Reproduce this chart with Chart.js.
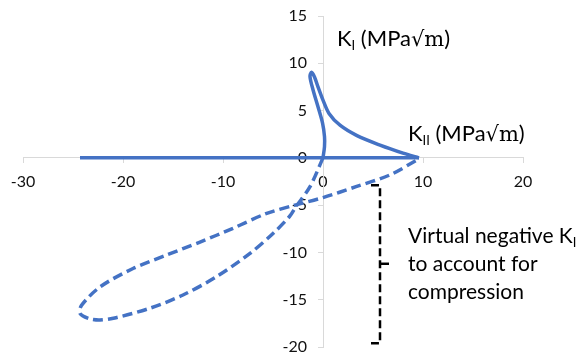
<!DOCTYPE html>
<html>
<head>
<meta charset="utf-8">
<script src="https://cdn.jsdelivr.net/npm/chart.js@4.4.0/dist/chart.umd.min.js"></script>
<style>
html, body { margin: 0; padding: 0; background: #fff; }
#wrap { width: 577px; height: 354px; }
</style>
</head>
<body>
<div id="wrap"><canvas id="kChart"></canvas></div>
<script>
// axis ranges / ticks
var xTicks = [-30, -20, -10, 0, 10, 20];
var yTicks = [-20, -15, -10, -5, 0, 5, 10, 15];

// K_I = 0 branch (solid)
var flatKII = [-24.3, 9.6];
var flatKI = [0, 0];

// loop above the axis (solid)
var upperKII = [9.6, 8.0, 5.7, 3.4, 1.7, 0.6, 0, -0.5, -0.85, -1.15, -1.3, -1.0, -0.5, -0.05, 0.15, 0.15, 0];
var upperKI = [0, 0.5, 1.35, 2.35, 3.45, 4.7, 6.1, 7.5, 8.55, 9.05, 8.6, 7.2, 5.4, 3.7, 2.25, 1.2, 0];

// virtual negative K_I branch (dashed)
var virtKII = [0, -1.3, -2.7, -3.35, -5.0, -7.3, -10.7, -14.0, -17.3, -20.7, -22.3, -23.4, -24.3, -24.15, -22.3, -19.0, -15.7, -12.3, -9.0, -5.7, -3.0, 0, 3.3, 6.7, 9.6];
var virtKI = [0, -3.05, -5.15, -6.2, -8.0, -10.1, -12.6, -14.5, -15.9, -16.9, -17.15, -17.0, -16.45, -15.6, -13.65, -11.7, -10.3, -8.9, -7.45, -5.9, -5.05, -4.2, -3.05, -1.8, -0.1];

// bracket marking the virtual region
var bracketX = [4.8, 5.7, 5.7, 4.8];
var bracketY = [-2.9, -2.9, -19.6, -19.6];
var bracketMidX = [5.7, 6.6];
var bracketMidY = [-11.2, -11.2];

function pts(xs, ys) {
    return xs.map(function(x, i) { return { x: x, y: ys[i] }; });
}

var blue = '#4472C4';
var sans = 'Lato, "Open Sans", sans-serif';
var serif = '"DejaVu Serif", "Liberation Serif", serif';

// draws a run of text pieces one after another
function drawRuns(c, x, y, runs) {
    runs.forEach(function(r) {
        c.font = r.size + 'px ' + (r.font || sans);
        c.fillText(r.t, x, y + (r.dy || 0));
        x += c.measureText(r.t).width;
    });
}

var textPlugin = {
    id: 'textPlugin',
    beforeDraw: function(chart) {
        // a y axis placed at x = 0 ignores ticks.padding, so push its labels left here
        chart.scales.y.getLabelItems().forEach(function(item) {
            item.options.translation[0] -= 16;
        });
    },
    afterDraw: function(chart) {
        var c = chart.ctx;
        c.save();
        c.fillStyle = '#000';
        c.textBaseline = 'alphabetic';
        c.textAlign = 'left';
        drawRuns(c, 337, 46, [
            { t: 'K', size: 22 }, { t: 'I', size: 13, dy: 4 }, { t: ' (MPa', size: 22 },
            { t: '√m', size: 21, font: serif }, { t: ')', size: 22 }
        ]);
        drawRuns(c, 408, 141, [
            { t: 'K', size: 22 }, { t: 'II', size: 13, dy: 4 }, { t: ' (MPa', size: 22 },
            { t: '√m', size: 21, font: serif }, { t: ')', size: 22 }
        ]);
        drawRuns(c, 408, 243, [{ t: 'Virtual negative K', size: 21 }, { t: 'I', size: 13, dy: 4 }]);
        drawRuns(c, 408, 271, [{ t: 'to account for', size: 21 }]);
        drawRuns(c, 408, 299, [{ t: 'compression', size: 21 }]);
        c.restore();
    }
};

var ctx = document.getElementById('kChart').getContext('2d');
var chart = new Chart(ctx, {
    type: 'scatter',
    data: {
        datasets: [{
            data: pts(virtKII, virtKI),
            showLine: true,
            borderColor: blue,
            borderWidth: 3.5,
            borderDash: [10, 5],
            tension: 0.3,
            pointRadius: 0
        }, {
            data: pts(upperKII, upperKI),
            showLine: true,
            borderColor: blue,
            borderWidth: 3.5,
            tension: 0.3,
            pointRadius: 0
        }, {
            data: pts(flatKII, flatKI),
            showLine: true,
            borderColor: blue,
            borderWidth: 3.5,
            pointRadius: 0
        }, {
            data: pts(bracketX, bracketY),
            showLine: true,
            borderColor: '#000',
            borderWidth: 2.5,
            borderDash: [8, 4],
            pointRadius: 0
        }, {
            data: pts(bracketMidX, bracketMidY),
            showLine: true,
            borderColor: '#000',
            borderWidth: 2.5,
            pointRadius: 0
        }]
    },
    options: {
        responsive: true,
        maintainAspectRatio: false,
        animation: false,
        layout: { padding: { left: 23, right: 54, top: 16, bottom: 7 } },
        plugins: { legend: { display: false }, tooltip: { enabled: false } },
        scales: {
            x: {
                type: 'linear',
                position: { y: 0 },
                min: xTicks[0],
                max: xTicks[xTicks.length - 1],
                afterBuildTicks: function(axis) {
                    axis.ticks = xTicks.map(function(v) { return { value: v }; });
                },
                // axes cross at the origin, so they take no room of their own
                afterFit: function(axis) { axis.height = 0; axis.paddingLeft = 0; axis.paddingRight = 0; },
                grid: { drawOnChartArea: false, drawTicks: true, tickLength: 5, color: '#d9d9d9' },
                border: { color: '#d9d9d9', width: 1 },
                ticks: { autoSkip: false, maxRotation: 0, padding: 9, color: '#111', font: { family: sans, size: 16 } }
            },
            y: {
                type: 'linear',
                position: { x: 0 },
                min: yTicks[0],
                max: yTicks[yTicks.length - 1],
                afterBuildTicks: function(axis) {
                    axis.ticks = yTicks.map(function(v) { return { value: v }; });
                },
                afterFit: function(axis) { axis.width = 0; axis.paddingTop = 0; axis.paddingBottom = 0; },
                grid: { drawOnChartArea: false, drawTicks: true, tickLength: 5, color: '#d9d9d9' },
                border: { color: '#d9d9d9', width: 1 },
                ticks: { autoSkip: false, color: '#111', font: { family: sans, size: 16 } }
            }
        }
    },
    plugins: [textPlugin]
});
</script>
</body>
</html>
